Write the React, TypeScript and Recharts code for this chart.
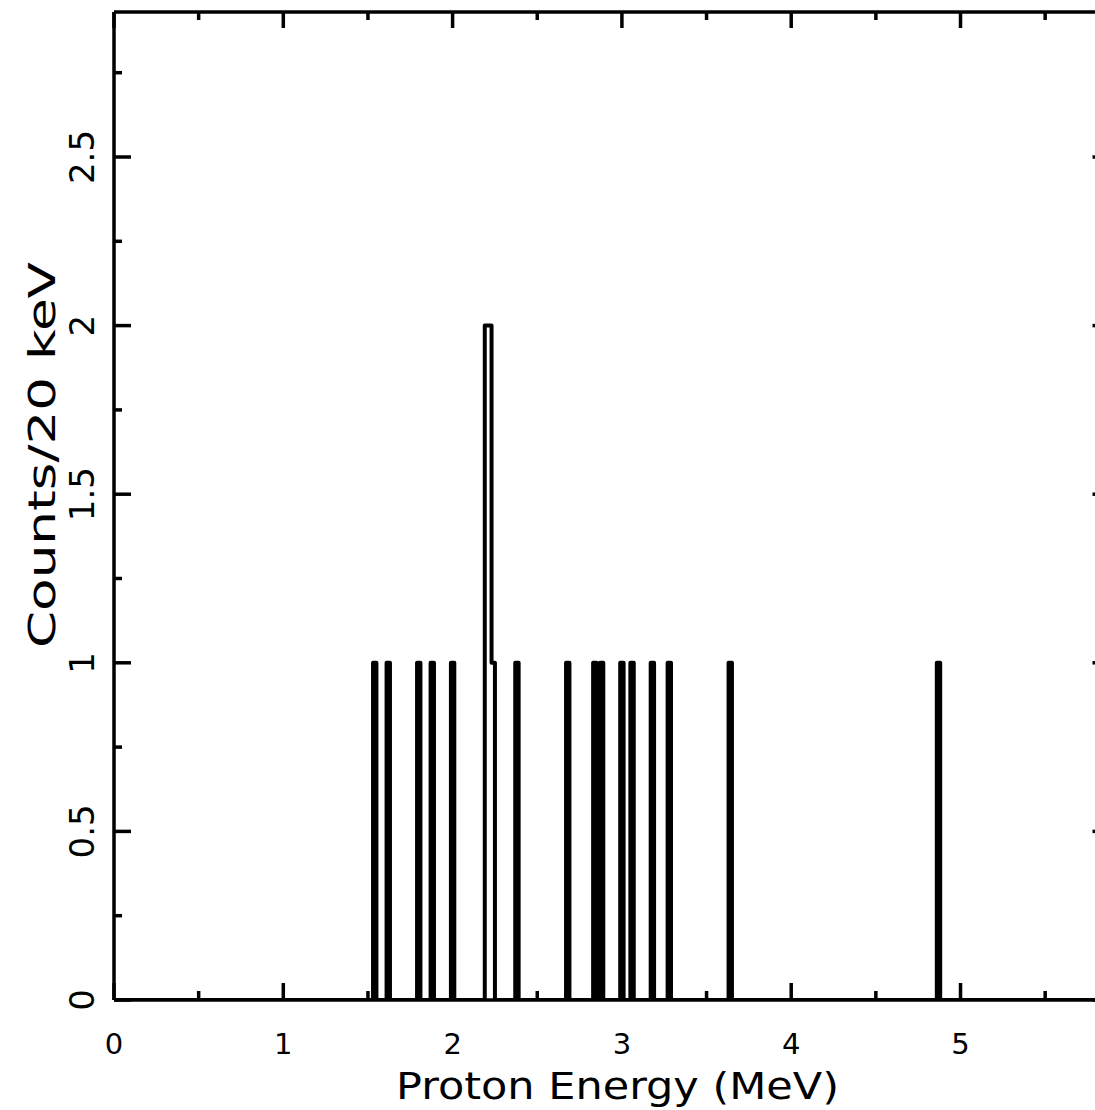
import React from 'react';
import { LineChart, Line, XAxis, YAxis } from 'recharts';

// Histogram of proton energies, 20 keV bins (bin low edges in MeV)
const binWidth = 0.02;
const binStarts = [1.53, 1.61, 1.79, 1.87, 1.99, 2.19, 2.21, 2.23, 2.37, 2.67, 2.83, 2.87, 2.99, 3.05, 3.17, 3.27, 3.63, 4.86];
const binCounts = [1, 1, 1, 1, 1, 2, 2, 1, 1, 1, 1, 1, 1, 1, 1, 1, 1, 1];

const xDomain: [number, number] = [0, 5.88];
const yDomain: [number, number] = [0, 2.93];
const xMajorTicks = [0, 1, 2, 3, 4, 5];
const xMinorTicks = [0.5, 1.5, 2.5, 3.5, 4.5, 5.5];
const yMajorTicks = [0, 0.5, 1, 1.5, 2, 2.5];
const yMinorTicks = [0.25, 0.75, 1.25, 1.75, 2.25, 2.75];

const xLabel = 'Proton Energy (MeV)';
const yLabel = 'Counts/20 keV';

// Build the histogram outline (step path) from the bins
type Pt = { e: number; c: number };
const outline: Pt[] = [{ e: xDomain[0], c: 0 }];
let prevEnd = -1;
binStarts.forEach((s, i) => {
  const c = binCounts[i];
  const end = s + binWidth;
  if (Math.abs(s - prevEnd) < 1e-6) {
    outline.push({ e: s, c });
  } else {
    if (prevEnd >= 0) outline.push({ e: prevEnd, c: 0 });
    outline.push({ e: s, c: 0 });
    outline.push({ e: s, c });
  }
  outline.push({ e: end, c });
  prevEnd = end;
});
outline.push({ e: prevEnd, c: 0 });
outline.push({ e: xDomain[1], c: 0 });

const xTicks = [...xMajorTicks, ...xMinorTicks].sort((a, b) => a - b);
const yTicks = [...yMajorTicks, ...yMinorTicks].sort((a, b) => a - b);
const isMajorX = (v: number) => xMajorTicks.includes(v);
const isMajorY = (v: number) => yMajorTicks.includes(v);

const FONT = '"DejaVu Sans", "Liberation Sans", sans-serif';

const BottomTick = (props: any) => {
  const { x, y, payload } = props;
  const v = payload.value;
  const major = isMajorX(v);
  return (
    <g>
      <line x1={x} x2={x} y1={y} y2={y - (major ? 17 : 9)} stroke="#000" strokeWidth={3.5} />
      {major && (
        <text x={x} y={y + 54} textAnchor="middle" fontFamily={FONT} fontSize={29} fill="#000">
          {String(v)}
        </text>
      )}
    </g>
  );
};

const TopTick = (props: any) => {
  const { x, y, payload } = props;
  const v = payload.value;
  const major = isMajorX(v);
  return <line x1={x} x2={x} y1={y} y2={y + (major ? 16 : 8)} stroke="#000" strokeWidth={3.5} />;
};

const LeftTick = (props: any) => {
  const { x, y, payload } = props;
  const v = payload.value;
  const major = isMajorY(v);
  const lx = x - 20;
  return (
    <g>
      <line x1={x} x2={x + (major ? 17 : 8)} y1={y} y2={y} stroke="#000" strokeWidth={3.5} />
      {major && (
        <text
          x={lx}
          y={y}
          transform={`rotate(-90, ${lx}, ${y})`}
          textAnchor="middle"
          fontFamily={FONT}
          fontSize={34}
          fill="#000"
        >
          {String(v)}
        </text>
      )}
    </g>
  );
};

const RightTick = (props: any) => {
  const { x, y, payload } = props;
  const v = payload.value;
  const major = isMajorY(v);
  return <line x1={x} x2={x - (major ? 17 : 8)} y1={y} y2={y} stroke="#000" strokeWidth={3.5} />;
};

export default function App() {
  return (
    <div
      style={{
        position: 'absolute',
        left: 0,
        top: 0,
        width: 1095,
        height: 1110,
        overflow: 'hidden',
        background: '#fff',
      }}
    >
      <LineChart
        width={1140}
        height={1110}
        data={outline}
        margin={{ top: 11, right: 29.5, bottom: 70, left: 54 }}
      >
        <XAxis
          xAxisId="b"
          dataKey="e"
          type="number"
          domain={xDomain}
          allowDataOverflow
          ticks={xTicks}
          interval={0}
          tickSize={0}
          tickMargin={0}
          tickLine={false}
          tick={<BottomTick />}
          axisLine={{ stroke: '#000', strokeWidth: 3.5 }}
          height={40}
        />
        <XAxis
          xAxisId="t"
          orientation="top"
          dataKey="e"
          type="number"
          domain={xDomain}
          allowDataOverflow
          ticks={xTicks}
          interval={0}
          tickSize={0}
          tickMargin={0}
          tickLine={false}
          tick={<TopTick />}
          axisLine={{ stroke: '#000', strokeWidth: 3.5 }}
          height={1}
        />
        <YAxis
          yAxisId="l"
          type="number"
          domain={yDomain}
          allowDataOverflow
          ticks={yTicks}
          interval={0}
          tickSize={0}
          tickMargin={0}
          tickLine={false}
          tick={<LeftTick />}
          axisLine={{ stroke: '#000', strokeWidth: 3.5 }}
          width={60}
        />
        <YAxis
          yAxisId="r"
          orientation="right"
          type="number"
          domain={yDomain}
          allowDataOverflow
          ticks={yTicks}
          interval={0}
          tickSize={0}
          tickMargin={0}
          tickLine={false}
          tick={<RightTick />}
          axisLine={{ stroke: '#000', strokeWidth: 3.5 }}
          width={1}
        />
        <Line
          xAxisId="b"
          yAxisId="l"
          type="linear"
          dataKey="c"
          stroke="#000"
          strokeWidth={4}
          strokeLinejoin="round"
          strokeLinecap="round"
          dot={false}
          activeDot={false}
          isAnimationActive={false}
        />
        <text x={396} y={1099} fontFamily={FONT} fontSize={38} fill="#000" textLength={443} lengthAdjust="spacingAndGlyphs">
          {xLabel}
        </text>
        <text
          x={55}
          y={455}
          transform="rotate(-90, 55, 455)"
          textAnchor="middle"
          fontFamily={FONT}
          fontSize={38}
          fill="#000"
          textLength={386}
          lengthAdjust="spacingAndGlyphs"
        >
          {yLabel}
        </text>
      </LineChart>
    </div>
  );
}
